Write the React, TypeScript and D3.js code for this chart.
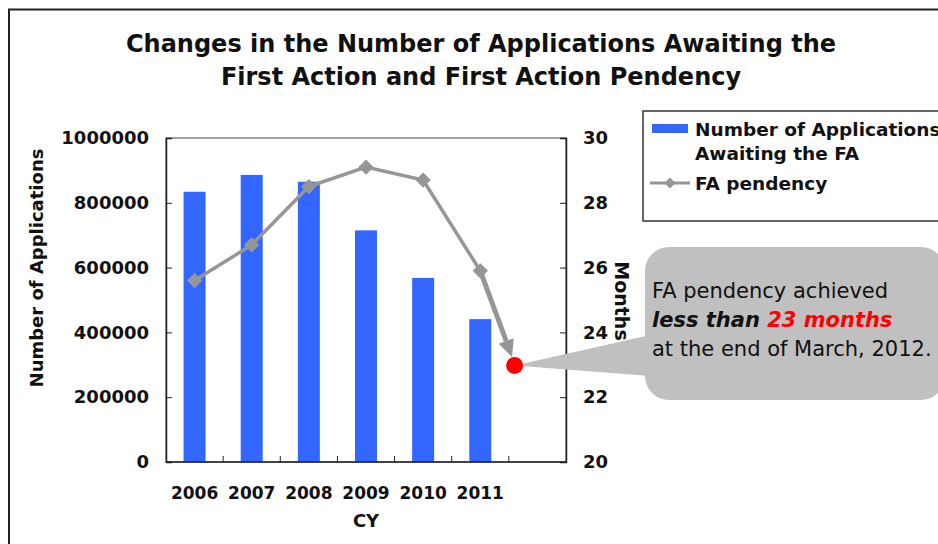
import * as d3 from 'd3'
import { useRef, useEffect } from 'react'

const years = ['2006', '2007', '2008', '2009', '2010', '2011', '']
const applications = [834000, 886000, 865000, 715000, 568000, 441000]
const pendency = [25.6, 26.7, 28.5, 29.1, 28.7, 25.9]
const march2012 = 22.98
const leftTicks = [0, 200000, 400000, 600000, 800000, 1000000]
const rightTicks = [20, 22, 24, 26, 28, 30]

const BLUE = '#3366ff'
const GREY = '#969696'
const FONT = 'DejaVu Sans, Verdana, sans-serif'

const App = () => {
  const chartRef = useRef(null)

  useEffect(() => {
    drawChart()
  }, [])

  const drawChart = () => {
    const svg = d3.select(chartRef.current)
    svg.selectAll('*').remove()

    const plot = { left: 166, right: 566, top: 138, bottom: 462 }

    // outer frame
    svg
      .append('rect')
      .attr('x', 9)
      .attr('y', 9.5)
      .attr('width', 960)
      .attr('height', 560)
      .attr('fill', 'none')
      .attr('stroke', '#222')
      .attr('stroke-width', 2)

    // title
    const title = svg
      .append('text')
      .attr('text-anchor', 'middle')
      .attr('font-family', FONT)
      .attr('font-weight', 'bold')
      .attr('font-size', 24)
      .attr('fill', '#111')
    title.append('tspan').attr('x', 481).attr('y', 52).text('Changes in the Number of Applications Awaiting the')
    title.append('tspan').attr('x', 481).attr('y', 85).text('First Action and First Action Pendency')

    const x = d3.scaleBand().domain(years).range([plot.left, plot.right])
    const xStep = x.step()
    const xCenter = (i) => plot.left + xStep * (i + 0.5)
    const yLeft = d3.scaleLinear().domain([0, 1000000]).range([plot.bottom, plot.top])
    const yRight = d3.scaleLinear().domain([20, 30]).range([plot.bottom, plot.top])

    // plot frame
    svg
      .append('rect')
      .attr('x', plot.left)
      .attr('y', plot.top)
      .attr('width', plot.right - plot.left)
      .attr('height', plot.bottom - plot.top)
      .attr('fill', 'white')
      .attr('stroke', '#444')
      .attr('stroke-width', 1)

    // bars
    svg
      .append('g')
      .selectAll('rect')
      .data(applications)
      .enter()
      .append('rect')
      .attr('x', (d, i) => xCenter(i) - 11)
      .attr('width', 22)
      .attr('y', (d) => yLeft(d))
      .attr('height', (d) => plot.bottom - yLeft(d))
      .attr('fill', BLUE)

    // left axis
    const leftAxis = svg
      .append('g')
      .attr('transform', 'translate(' + plot.left + ',0)')
      .call(d3.axisLeft(yLeft).tickValues(leftTicks).tickFormat(d3.format('d')).tickSize(-6).tickPadding(17))
    leftAxis.select('.domain').attr('stroke', '#222').attr('stroke-width', 1.5)
    leftAxis.selectAll('line').attr('stroke', '#222')
    leftAxis.selectAll('text').attr('font-family', FONT).attr('font-weight', 'bold').attr('font-size', 18).attr('fill', '#111')

    // right axis
    const rightAxis = svg
      .append('g')
      .attr('transform', 'translate(' + plot.right + ',0)')
      .call(d3.axisRight(yRight).tickValues(rightTicks).tickSize(-6).tickPadding(17))
    rightAxis.select('.domain').attr('stroke', '#222').attr('stroke-width', 1.5)
    rightAxis.selectAll('line').attr('stroke', '#222')
    rightAxis.selectAll('text').attr('font-family', FONT).attr('font-weight', 'bold').attr('font-size', 18).attr('fill', '#111')

    // bottom axis
    const bottomAxis = svg
      .append('g')
      .attr('transform', 'translate(0,' + plot.bottom + ')')
    bottomAxis
      .append('line')
      .attr('x1', plot.left)
      .attr('x2', plot.right)
      .attr('stroke', '#222')
      .attr('stroke-width', 1.5)
    bottomAxis
      .selectAll('line.tick')
      .data(d3.range(1, years.length))
      .enter()
      .append('line')
      .attr('class', 'tick')
      .attr('x1', (d) => plot.left + xStep * d)
      .attr('x2', (d) => plot.left + xStep * d)
      .attr('y1', 0)
      .attr('y2', -6)
      .attr('stroke', '#222')
    bottomAxis
      .selectAll('text')
      .data(years)
      .enter()
      .append('text')
      .attr('x', (d, i) => xCenter(i))
      .attr('y', 37)
      .attr('text-anchor', 'middle')
      .attr('font-family', FONT)
      .attr('font-weight', 'bold')
      .attr('font-size', 17)
      .attr('fill', '#111')
      .text((d) => d)

    // axis titles
    svg
      .append('text')
      .attr('transform', 'translate(43,268) rotate(-90)')
      .attr('text-anchor', 'middle')
      .attr('font-family', FONT)
      .attr('font-weight', 'bold')
      .attr('font-size', 18)
      .attr('fill', '#111')
      .text('Number of Applications')
    svg
      .append('text')
      .attr('transform', 'translate(615,301) rotate(90)')
      .attr('text-anchor', 'middle')
      .attr('font-family', FONT)
      .attr('font-weight', 'bold')
      .attr('font-size', 19)
      .attr('fill', '#111')
      .text('Months')
    svg
      .append('text')
      .attr('x', (plot.left + plot.right) / 2)
      .attr('y', 527)
      .attr('text-anchor', 'middle')
      .attr('font-family', FONT)
      .attr('font-weight', 'bold')
      .attr('font-size', 18)
      .attr('fill', '#111')
      .text('CY')

    // pendency line
    const line = d3
      .line()
      .x((d, i) => xCenter(i))
      .y((d) => yRight(d))
    svg
      .append('path')
      .datum(pendency)
      .attr('d', line)
      .attr('fill', 'none')
      .attr('stroke', GREY)
      .attr('stroke-width', 3.5)
    svg
      .append('g')
      .selectAll('path')
      .data(pendency)
      .enter()
      .append('path')
      .attr('d', d3.symbol(d3.symbolDiamond2, 150))
      .attr('transform', (d, i) => 'translate(' + xCenter(i) + ',' + yRight(d) + ')')
      .attr('fill', GREY)

    // arrow to March 2012 value
    const last = pendency.length - 1
    const x0 = xCenter(last)
    const y0 = yRight(pendency[last])
    const dotX = xCenter(last) + xStep * 0.6
    const dotY = yRight(march2012)
    const tipX = dotX - 2.5
    const tipY = dotY - 8.5
    const ang = Math.atan2(tipY - y0, tipX - x0)
    const headLen = 17
    const headW = 8
    const bx = tipX - headLen * Math.cos(ang)
    const by = tipY - headLen * Math.sin(ang)
    const px = -Math.sin(ang)
    const py = Math.cos(ang)
    svg
      .append('line')
      .attr('x1', x0)
      .attr('y1', y0)
      .attr('x2', bx)
      .attr('y2', by)
      .attr('stroke', GREY)
      .attr('stroke-width', 5)
    svg
      .append('path')
      .attr('d', 'M' + tipX + ',' + tipY + 'L' + (bx + px * headW) + ',' + (by + py * headW) + 'L' + (bx - px * headW) + ',' + (by - py * headW) + 'Z')
      .attr('fill', GREY)

    // callout
    const box = { x: 645, y: 247, w: 300, h: 153 }
    svg
      .append('path')
      .attr('d', 'M' + dotX + ',' + dotY + 'L' + (box.x + 5) + ',335L' + (box.x + 5) + ',376Z')
      .attr('fill', '#c0c0c0')
    svg
      .append('rect')
      .attr('x', box.x)
      .attr('y', box.y)
      .attr('width', box.w)
      .attr('height', box.h)
      .attr('rx', 24)
      .attr('fill', '#c0c0c0')
    svg
      .append('circle')
      .attr('cx', dotX)
      .attr('cy', dotY)
      .attr('r', 8.5)
      .attr('fill', '#ff0000')

    const note = svg
      .append('text')
      .attr('font-family', FONT)
      .attr('font-size', 21)
      .attr('fill', '#111')
    note.append('tspan').attr('x', 652).attr('y', 298).text('FA pendency achieved')
    const l2 = note.append('tspan').attr('x', 652).attr('y', 327).attr('font-weight', 'bold').attr('font-style', 'italic')
    l2.append('tspan').text('less than ')
    l2.append('tspan').attr('fill', '#ff0000').text('23 months')
    note.append('tspan').attr('x', 652).attr('y', 356).text('at the end of March, 2012.')

    // legend
    svg
      .append('rect')
      .attr('x', 643)
      .attr('y', 111)
      .attr('width', 320)
      .attr('height', 110)
      .attr('fill', 'white')
      .attr('stroke', '#333')
      .attr('stroke-width', 1.5)
    svg
      .append('rect')
      .attr('x', 652)
      .attr('y', 124)
      .attr('width', 36)
      .attr('height', 9)
      .attr('fill', BLUE)
    svg
      .append('line')
      .attr('x1', 650)
      .attr('x2', 690)
      .attr('y1', 183)
      .attr('y2', 183)
      .attr('stroke', GREY)
      .attr('stroke-width', 3)
    svg
      .append('path')
      .attr('d', d3.symbol(d3.symbolDiamond2, 80))
      .attr('transform', 'translate(670,183)')
      .attr('fill', GREY)
    const legText = svg
      .append('text')
      .attr('font-family', FONT)
      .attr('font-weight', 'bold')
      .attr('font-size', 18.5)
      .attr('fill', '#111')
    legText.append('tspan').attr('x', 695).attr('y', 136).text('Number of Applications')
    legText.append('tspan').attr('x', 695).attr('y', 160).text('Awaiting the FA')
    legText.append('tspan').attr('x', 695).attr('y', 190).text('FA pendency')
  }

  return (
    <div style={{ position: 'fixed', left: 0, top: 0 }}>
      <svg ref={chartRef} width={938} height={544} style={{ display: 'block', background: 'white' }}></svg>
    </div>
  )
}

export default App
